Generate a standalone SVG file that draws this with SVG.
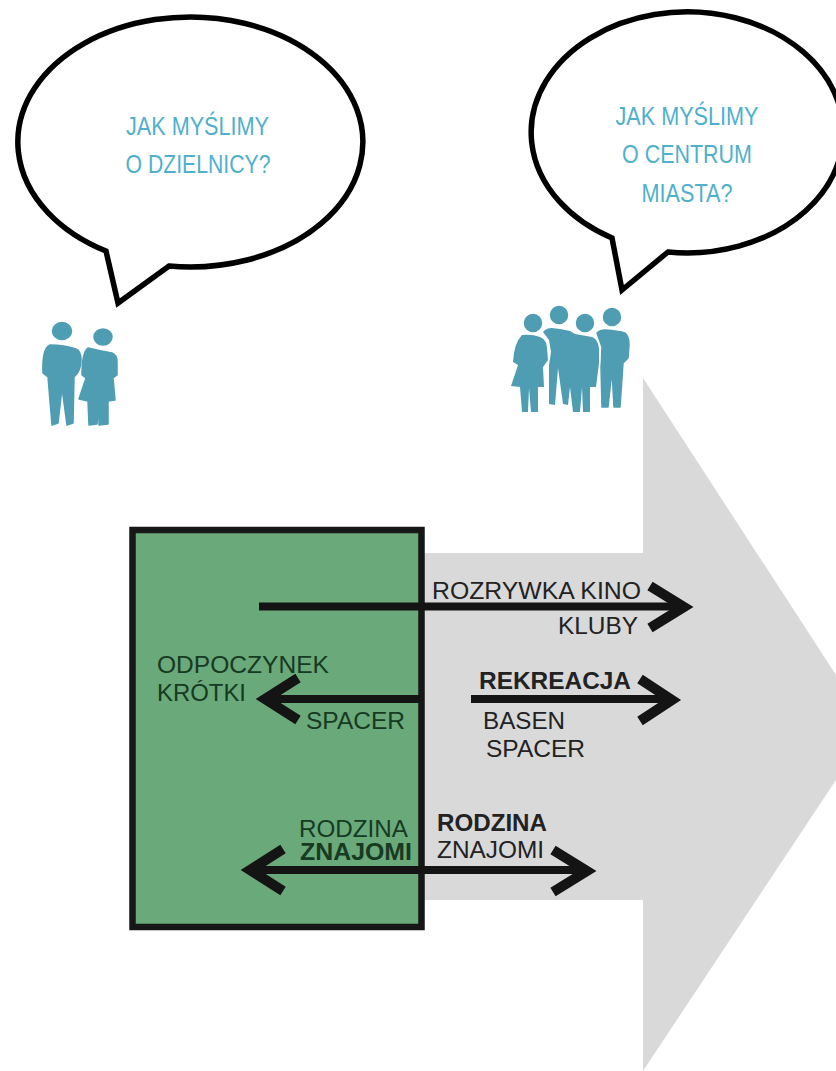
<svg xmlns="http://www.w3.org/2000/svg" width="836" height="1071" viewBox="0 0 836 1071">
<style>
.b{fill:#fff;stroke:#000;stroke-width:5.5;stroke-linejoin:miter}
.q{font:25px "Liberation Sans",sans-serif;fill:#4fb0cb;text-anchor:middle}
.p{fill:#4f9db3;stroke:#4f9db3;stroke-width:1.5;stroke-linejoin:round}
.g{stroke:#fff;stroke-width:2.5;paint-order:stroke}
.t{font:24px "Liberation Sans",sans-serif;fill:#222}
.d{fill:#173a22}
.s{font-weight:bold}
.l{fill:none;stroke:#141414;stroke-width:8}
.h{fill:none;stroke:#141414;stroke-width:10}
</style>
<rect width="836" height="1071" fill="#fff"/>
<g id="big-arrow"><path d="M424 553H643V378L836 675V780L643 1071V900H424Z" fill="#d9d9d9"/></g>
<g id="bubble-left">
<path class="b" d="M106 251A172.5 125 0 1 1 169 266L118 303Z"/>
<text class="q" x="197.5" y="135" textLength="143" lengthAdjust="spacingAndGlyphs">JAK MYŚLIMY</text>
<text class="q" x="198" y="173" textLength="145" lengthAdjust="spacingAndGlyphs">O DZIELNICY?</text>
</g>
<g id="bubble-right">
<path class="b" d="M612 238A156 120.5 0 1 1 668 252L622 290Z"/>
<text class="q" x="687" y="125" textLength="143" lengthAdjust="spacingAndGlyphs">JAK MYŚLIMY</text>
<text class="q" x="687" y="163" textLength="130" lengthAdjust="spacingAndGlyphs">O CENTRUM</text>
<text class="q" x="687" y="202" textLength="91" lengthAdjust="spacingAndGlyphs">MIASTA?</text>
</g>
<g id="people-pair">
<ellipse class="p" cx="62" cy="331" rx="9.5" ry="8.5"/>
<ellipse class="p" cx="103" cy="337" rx="9" ry="8"/>
<path class="p" d="M50 345Q64 345 76 349Q81 351 81 360Q81 371 74 377L73 423L67 425L62 388L58 423L52 425L48 377L43 373Q42 348 50 345Z"/>
<path class="p" d="M88 348Q100 351 112 353Q117 355 117 362L117 375L113 378L115 400L108 401L108 424L99 425L99 401L97 424L89 425L88 401L79 399L86 378L82 375Q82 352 88 348Z"/>
</g>
<g id="people-group">
<circle class="p" cx="533" cy="323" r="8.5"/><circle class="p" cx="559" cy="315" r="8.5"/><circle class="p" cx="585" cy="323" r="8.5"/><circle class="p" cx="612" cy="317" r="8.5"/>
<path class="p" d="M597 333Q600 330 605 330Q618 331 625 333Q629 336 629 345L628 358L623 363L620 407L614 407L612 370L608 407L602 407L601 367L602 347Z"/>
<path class="p g" d="M543 332Q546 328 552 328Q562 329 570 331L575 334L592 337Q598 339 599 349L599 363L596 387L590 387L590 412L583 412L582 387L580 412L573 412L570 387L568 405L563 404L558 368L555 405L549 404L549 365L551 352L549 340Z"/>
<path class="p g" d="M522 335Q532 334 540 337Q547 340 547 348L548 360L543 367L544 387L538 387L538 412L531 412L529 388L528 412L522 412L520 387L511 386L518 365L513 362Q514 343 522 335Z"/>
</g>
<g id="district-box"><rect x="132.5" y="530" width="289" height="397" fill="#69a97a" stroke="#171717" stroke-width="6.5"/></g>
<g id="connectors">
<path class="l" d="M259 606.5H684"/><path class="h" d="M650 586L684 607L650 628"/>
<path class="l" d="M420 699H265"/><path class="h" d="M298 678L265 699L298 720"/>
<path class="l" d="M471 699H672"/><path class="h" d="M640 679L672 700L640 721"/>
<path class="l" d="M250 870H587"/><path class="h" d="M283 849L250 870L283 891"/><path class="h" d="M553 850L587 871L553 892"/>
</g>
<g id="labels">
<text class="t" x="432" y="599" textLength="209" lengthAdjust="spacingAndGlyphs">ROZRYWKA KINO</text>
<text class="t" x="558" y="634" textLength="80" lengthAdjust="spacingAndGlyphs">KLUBY</text>
<text class="t d" x="157" y="673" textLength="172" lengthAdjust="spacingAndGlyphs">ODPOCZYNEK</text>
<text class="t d" x="157" y="701" textLength="89" lengthAdjust="spacingAndGlyphs">KRÓTKI</text>
<text class="t d" x="306" y="729" textLength="99" lengthAdjust="spacingAndGlyphs">SPACER</text>
<text class="t s" x="479" y="689" textLength="152" lengthAdjust="spacingAndGlyphs">REKREACJA</text>
<text class="t" x="483" y="729" textLength="82" lengthAdjust="spacingAndGlyphs">BASEN</text>
<text class="t" x="486" y="757" textLength="99" lengthAdjust="spacingAndGlyphs">SPACER</text>
<text class="t d" x="299" y="837" textLength="109" lengthAdjust="spacingAndGlyphs">RODZINA</text>
<text class="t s d" x="300" y="860" textLength="112" lengthAdjust="spacingAndGlyphs">ZNAJOMI</text>
<text class="t s" x="437" y="831" textLength="110" lengthAdjust="spacingAndGlyphs">RODZINA</text>
<text class="t" x="437" y="858" textLength="107" lengthAdjust="spacingAndGlyphs">ZNAJOMI</text>
</g>
</svg>
